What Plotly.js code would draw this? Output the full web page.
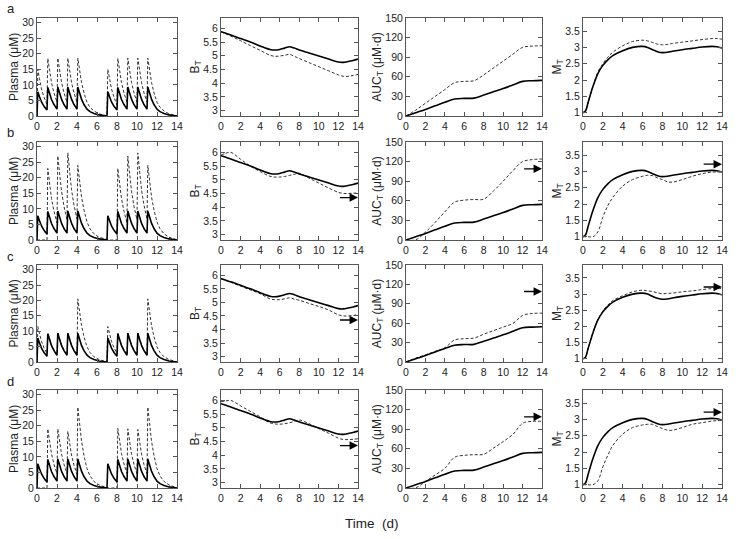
<!DOCTYPE html>
<html><head><meta charset="utf-8">
<script src="https://cdn.plot.ly/plotly-3.0.1.min.js"></script>
<style>body{margin:0;background:#fff}#c{width:738px;height:539px}</style>
</head><body><div id="c"></div>
<script>
// ---------- DATA ----------
const rowLabels = ["a","b","c","d"];
const xTicks = [0,2,4,6,8,10,12,14];

// Plasma time grid (days)
const tPlasma = [0,0.08,0.25,0.45,0.7, 1,1.08,1.25,1.45,1.7, 2,2.08,2.25,2.45,2.7, 3,3.08,3.25,3.45,3.7, 4,4.08,4.25,4.45,4.7, 5,5.3,5.7,6.2,6.99,
  7,7.08,7.25,7.45,7.7, 8,8.08,8.25,8.45,8.7, 9,9.08,9.25,9.45,9.7, 10,10.08,10.25,10.45,10.7, 11,11.08,11.25,11.45,11.7, 12,12.3,12.7,13.2,13.99, 14];

// Reference (solid) plasma — identical in all rows
const plasmaSolid = [0,7.8,6.2,4.5,3.1, 1.9,9.2,7.4,5.3,3.7, 2.2,9.3,7.5,5.4,3.7, 2.2,9.3,7.5,5.4,3.7, 2.2,9.3,7.5,5.4,3.7, 2.2,1.4,0.8,0.35,0.05,
  0,7.8,6.2,4.5,3.1, 1.9,9.2,7.4,5.3,3.7, 2.2,9.3,7.5,5.4,3.7, 2.2,9.3,7.5,5.4,3.7, 2.2,9.3,7.5,5.4,3.7, 2.2,1.4,0.8,0.35,0.05, 0.02];

const plasmaDashA = [0,15,12,8.7,6.0, 3.6,18.5,14.8,10.7,7.4, 4.4,18.6,14.9,10.8,7.4, 4.4,18.6,14.9,10.8,7.4, 4.4,18.6,14.9,10.8,7.4, 4.4,2.8,1.6,0.7,0.1,
  0,15,12,8.7,6.0, 3.6,18.5,14.8,10.7,7.4, 4.4,18.6,14.9,10.8,7.4, 4.4,18.6,14.9,10.8,7.4, 4.4,18.6,14.9,10.8,7.4, 4.4,2.8,1.6,0.7,0.1, 0.05];
const plasmaDashB = [0,0,0,0,0, 0,23,18.4,13.3,9.2, 5.5,27,21.6,15.7,10.8, 6.5,28,22.4,16.2,11.2, 6.7,24,19.2,13.9,9.6, 5.8,3.6,2.0,0.9,0.15,
  0,0,0,0,0, 0,23,18.4,13.3,9.2, 5.5,27,21.6,15.7,10.8, 6.5,28,22.4,16.2,11.2, 6.7,24,19.2,13.9,9.6, 5.8,3.6,2.0,0.9,0.15, 0.05];
const plasmaDashC = [0,11.5,9.2,6.7,4.6, 2.8,9.4,7.6,5.5,3.8, 2.3,9.4,7.6,5.5,3.8, 2.3,9.4,7.6,5.5,3.8, 2.3,20.5,16.4,11.9,8.2, 4.9,3.1,1.7,0.8,0.12,
  0,11.5,9.2,6.7,4.6, 2.8,9.4,7.6,5.5,3.8, 2.3,9.4,7.6,5.5,3.8, 2.3,9.4,7.6,5.5,3.8, 2.3,20.5,16.4,11.9,8.2, 4.9,3.1,1.7,0.8,0.12, 0.05];
const plasmaDashD = [0,0,0,0,0, 0,19,15.2,11,7.6, 4.6,19,15.2,11,7.6, 4.6,18.2,14.6,10.6,7.3, 4.4,26,20.8,15.1,10.4, 6.2,3.9,2.1,1.0,0.15,
  0,0,0,0,0, 0,19.2,15.4,11.1,7.7, 4.6,19,15.2,11,7.6, 4.6,18.8,15,10.9,7.5, 4.5,26,20.8,15.1,10.4, 6.2,3.9,2.1,1.0,0.15, 0.05];

// B_T
const tB = [0,0.5,1,2,3,4,5,5.5,6,6.5,7,7.5,8,9,10,11,12,12.5,13,13.5,14];
const bSolid = [5.88,5.82,5.76,5.63,5.5,5.36,5.23,5.21,5.23,5.28,5.33,5.28,5.21,5.1,4.99,4.88,4.77,4.76,4.79,4.83,4.88];
const bDashA = [5.88,5.8,5.72,5.55,5.37,5.2,5.02,4.98,4.99,5.02,5.05,4.98,4.9,4.75,4.6,4.45,4.3,4.25,4.25,4.28,4.32];
const bDashB = [5.9,5.97,6.0,5.75,5.5,5.3,5.13,5.1,5.1,5.12,5.16,5.2,5.24,5.06,4.88,4.7,4.54,4.5,4.5,4.51,4.52];
const bDashC = [5.88,5.81,5.74,5.6,5.46,5.32,5.13,5.1,5.1,5.13,5.17,5.12,5.08,4.96,4.85,4.72,4.54,4.5,4.5,4.52,4.55];
const bDashD = [5.95,5.98,6.0,5.8,5.6,5.4,5.18,5.14,5.13,5.15,5.18,5.23,5.28,5.15,4.97,4.8,4.62,4.57,4.57,4.58,4.6];

// AUC_T
const tA = [0,1,2,3,4,5,6,7,8,9,10,11,12,13,14];
const aucSolid = [0,5,10,15.5,21,26,27,27.3,32,37,42,47.5,53,54,54.5];
const aucDashA = [0,9,19.5,30,40.5,51,53,54,63,73.5,84,94.5,105,107,107.5];
const aucDashB = [0,0.3,12,27,43,58,61,62,62.5,75,90,106,120,123,124];
const aucDashC = [0,6,11,16.5,22,34,36,37,43,48.5,54,59.5,72,75,75.5];
const aucDashD = [0,0.3,10,20,30,47,50,51,51.5,61,71,82,99,102,102];

// M_T
const tM = [0,0.25,0.5,1,1.5,2,2.5,3,4,5,6,6.5,7,7.5,8,8.5,9,10,11,12,13,13.5,14];
const mSolid = [1.0,1.05,1.3,1.8,2.2,2.45,2.62,2.75,2.9,3.0,3.03,3.0,2.93,2.87,2.84,2.85,2.88,2.93,2.97,3.01,3.03,3.02,2.98];
const mDashA = [1.0,1.05,1.3,1.8,2.25,2.5,2.7,2.85,3.05,3.18,3.22,3.2,3.15,3.1,3.08,3.09,3.12,3.16,3.2,3.24,3.27,3.27,3.25];
const mDashB = [1.0,1.0,1.0,1.0,1.15,1.6,1.95,2.2,2.55,2.75,2.85,2.88,2.87,2.8,2.75,2.68,2.67,2.75,2.85,2.93,2.98,2.98,2.98];
const mDashC = [1.0,1.05,1.3,1.82,2.2,2.48,2.66,2.8,2.95,3.07,3.12,3.1,3.08,3.04,3.01,3.02,3.03,3.07,3.1,3.14,3.17,3.17,3.17];
const mDashD = [1.0,1.0,1.0,1.0,1.12,1.55,1.9,2.2,2.55,2.75,2.83,2.85,2.85,2.78,2.72,2.67,2.67,2.75,2.85,2.9,2.95,2.96,2.97];

// target-level arrows (rows b,c,d) for B_T, AUC_T, M_T
const arrowB = [null,4.35,4.35,4.35];
const arrowAUC = [null,109,109,109];
const arrowM = [null,3.22,3.22,3.22];

// ---------- LAYOUT ----------
const W = 738, H = 539;
const colPx = [[37,177],[221,358],[406,542],[583,722]];
const rowPx = [[18,116],[142,240],[265,362],[390,488]];

const plasmaDash = [plasmaDashA,plasmaDashB,plasmaDashC,plasmaDashD];
const bDash = [bDashA,bDashB,bDashC,bDashD];
const aucDash = [aucDashA,aucDashB,aucDashC,aucDashD];
const mDash = [mDashA,mDashB,mDashC,mDashD];

const panels = [
  {t:tPlasma, solid:plasmaSolid, dash:plasmaDash, range:[0,31.5], dtick:5, title:"Plasma (μM)", arrows:null},
  {t:tB, solid:bSolid, dash:bDash, range:[2.8,6.38], dtick:0.5, title:"B<sub>T</sub>", arrows:arrowB},
  {t:tA, solid:aucSolid, dash:aucDash, range:[0,150], dtick:30, title:"AUC<sub>T</sub> (μM·d)", arrows:arrowAUC},
  {t:tM, solid:mSolid, dash:mDash, range:[0.9,3.9], dtick:0.5, title:"M<sub>T</sub>", arrows:arrowM}
];

const font = {family:"Liberation Sans, Arial, sans-serif", color:"#222", size:10};
const traces = [];
const layout = {
  width:W, height:H, margin:{l:0,r:0,t:0,b:0}, showlegend:false,
  paper_bgcolor:"#fff", plot_bgcolor:"#fff", font:font, annotations:[]
};

let k = 0;
for (let r=0;r<4;r++){
  for (let c=0;c<4;c++){
    k++;
    const p = panels[c];
    const xa = "x"+(k===1?"":k), ya = "y"+(k===1?"":k);
    const xk = "xaxis"+(k===1?"":k), yk = "yaxis"+(k===1?"":k);
    const shape = c===0 ? "linear" : "spline";
    traces.push({x:p.t, y:p.dash[r], xaxis:xa, yaxis:ya, type:"scatter", mode:"lines",
      line:{color:"#333", width:1, dash:"3px,2px", shape:shape}, hoverinfo:"skip"});
    traces.push({x:p.t, y:p.solid, xaxis:xa, yaxis:ya, type:"scatter", mode:"lines",
      line:{color:"#000", width:1.6, shape:shape}, hoverinfo:"skip"});
    const common = {showline:true, mirror:"ticks", linecolor:"#555", linewidth:1,
      ticks:"inside", ticklen:4, tickcolor:"#555", showgrid:false, zeroline:false,
      tickfont:{family:font.family, size:10.5, color:"#222"}};
    layout[xk] = Object.assign({}, common, {
      domain:[colPx[c][0]/W, colPx[c][1]/W], range:[0,14], tickvals:xTicks,
      anchor:ya});
    layout[yk] = Object.assign({}, common, {
      domain:[1-rowPx[r][1]/H, 1-rowPx[r][0]/H], range:p.range, dtick:p.dtick, tick0:0,
      anchor:xa, title:{text:p.title, font:{family:font.family, size:12, color:"#222"}, standoff:1}});
    if (p.arrows && p.arrows[r] !== null){
      layout.annotations.push({x:14, y:p.arrows[r], ax:12, ay:p.arrows[r],
        xref:xa, yref:ya, axref:xa, ayref:ya, showarrow:true, text:"",
        arrowhead:2, arrowsize:1.3, arrowwidth:1.3, arrowcolor:"#000"});
    }
  }
  layout.annotations.push({x:5/W, y:1-(rowPx[r][0]-9)/H, xref:"paper", yref:"paper",
    text:rowLabels[r], showarrow:false, xanchor:"left", yanchor:"middle",
    font:{family:font.family, size:13, color:"#222"}});
}
layout.annotations.push({x:372/W, y:1-523/H, xref:"paper", yref:"paper", text:"Time  (d)",
  showarrow:false, xanchor:"center", yanchor:"middle", font:{family:font.family, size:13.5, color:"#222"}});

Plotly.newPlot("c", traces, layout, {staticPlot:true, displayModeBar:false});
</script></body></html>
